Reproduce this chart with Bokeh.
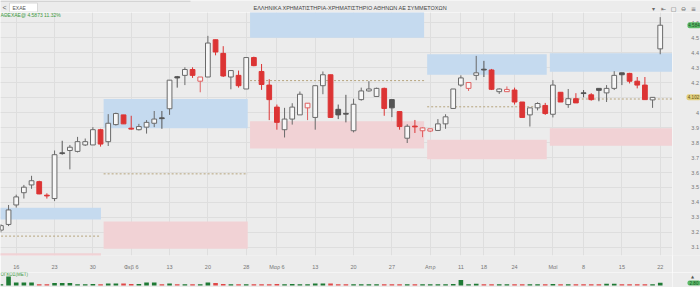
from bokeh.plotting import figure
from bokeh.layouts import column, row
from bokeh.models import FixedTicker, Range1d, Label, Grid
from bokeh.embed import file_html
from bokeh.resources import INLINE
from bokeh.core.properties import value

# ---------------- data ----------------
opens = [3.215, 3.253, 3.383, 3.465, 3.517, 3.539, 3.448, 3.426, 3.729, 3.747,
         3.741, 3.784, 3.784, 3.886, 3.806, 3.920, 3.985, 3.896, 3.886, 3.903,
         3.929, 3.965, 4.026, 4.240, 4.249, 4.288, 4.210, 4.238, 4.487, 4.396,
         4.238, 4.249, 4.158, 4.368, 4.275, 4.184, 4.037, 3.886, 3.957, 3.985,
         4.032, 3.968, 4.180, 4.253, 4.022, 3.995, 3.879, 4.087, 4.145, 4.108,
         4.162, 4.087, 4.007, 3.829, 3.910, 3.879, 3.877, 3.881, 3.925, 4.028,
         4.184, 4.162, 4.249, 4.290, 4.285, 4.140, 4.140, 4.151, 4.071, 3.985,
         4.032, 4.048, 3.989, 4.136, 4.054, 4.093, 4.132, 4.119, 4.162, 4.132,
         4.162, 4.266, 4.262, 4.210, 4.184, 4.085, 4.426]
highs = [3.255, 3.383, 3.452, 3.517, 3.578, 3.545, 3.461, 3.747, 3.812, 3.784,
         3.838, 3.827, 3.903, 3.892, 3.990, 4.000, 3.985, 3.979, 3.925, 3.950,
         4.011, 4.011, 4.217, 4.245, 4.303, 4.303, 4.238, 4.513, 4.487, 4.444,
         4.281, 4.281, 4.368, 4.374, 4.325, 4.223, 4.054, 4.032, 4.063, 4.141,
         4.063, 4.180, 4.275, 4.253, 4.054, 4.119, 4.093, 4.167, 4.210, 4.167,
         4.167, 4.087, 4.007, 3.922, 3.951, 3.901, 3.892, 3.957, 3.989, 4.158,
         4.249, 4.201, 4.379, 4.346, 4.292, 4.162, 4.175, 4.167, 4.071, 4.032,
         4.069, 4.065, 4.217, 4.136, 4.158, 4.130, 4.151, 4.130, 4.162, 4.184,
         4.277, 4.266, 4.266, 4.238, 4.238, 4.102, 4.638]
lows = [3.200, 3.242, 3.366, 3.426, 3.491, 3.455, 3.426, 3.409, 3.719, 3.621,
        3.734, 3.777, 3.784, 3.773, 3.777, 3.914, 3.925, 3.886, 3.881, 3.860,
        3.903, 3.892, 3.985, 4.167, 4.184, 4.232, 4.136, 4.238, 4.383, 4.238,
        4.156, 4.167, 4.158, 4.310, 4.152, 3.950, 3.886, 3.834, 3.920, 3.985,
        3.950, 3.886, 4.123, 3.968, 3.957, 3.935, 3.868, 4.080, 4.140, 4.108,
        3.979, 3.970, 3.886, 3.797, 3.864, 3.836, 3.870, 3.877, 3.892, 4.028,
        4.173, 4.145, 4.217, 4.238, 4.151, 4.125, 4.140, 4.054, 3.968, 3.907,
        4.015, 3.985, 3.968, 4.071, 4.032, 4.065, 4.102, 4.080, 4.076, 4.071,
        4.151, 4.184, 4.195, 4.162, 4.087, 4.032, 4.390]
closes = [3.245, 3.350, 3.437, 3.502, 3.545, 3.457, 3.444, 3.719, 3.729, 3.769,
          3.806, 3.806, 3.886, 3.790, 3.929, 3.994, 3.925, 3.890, 3.907, 3.935,
          3.957, 3.960, 4.217, 4.232, 4.288, 4.249, 4.238, 4.465, 4.405, 4.245,
          4.281, 4.180, 4.368, 4.314, 4.188, 4.087, 3.935, 3.957, 4.037, 4.123,
          4.063, 4.180, 4.253, 3.968, 3.985, 3.990, 4.056, 4.145, 4.158, 4.162,
          4.028, 4.032, 3.907, 3.909, 3.905, 3.898, 3.892, 3.925, 3.972, 4.158,
          4.232, 4.201, 4.266, 4.285, 4.156, 4.158, 4.155, 4.071, 3.968, 4.032,
          4.061, 3.994, 4.184, 4.071, 4.093, 4.065, 4.128, 4.087, 4.149, 4.162,
          4.249, 4.253, 4.210, 4.184, 4.087, 4.102, 4.584]
volumes = [1.2, 9.0, 3.0, 3.0, 3.0, 1.2, 1.2, 2.5, 2.5, 2.5,
           1.2, 1.2, 1.5, 1.2, 2.0, 2.0, 2.0, 1.5, 1.5, 3.0,
           3.0, 1.2, 2.0, 1.2, 1.2, 1.2, 1.2, 3.0, 2.5, 1.5,
           1.2, 1.2, 1.2, 1.2, 1.2, 1.2, 1.5, 1.2, 1.5, 1.2,
           1.2, 2.0, 2.0, 2.0, 1.2, 1.2, 1.2, 1.2, 1.2, 1.2,
           1.2, 1.2, 1.2, 1.2, 1.2, 1.2, 1.2, 1.2, 1.2, 1.5,
           5.5, 1.2, 1.8, 1.2, 1.2, 1.2, 1.2, 1.2, 1.2, 1.2,
           1.2, 1.2, 1.5, 1.2, 1.2, 1.2, 1.2, 1.2, 1.2, 1.8,
           1.8, 1.2, 1.2, 1.2, 1.2, 1.2, 2.8]

tick_idx = [2, 7, 12, 17, 22, 27, 32, 36, 41, 46, 51, 56, 60, 63, 67, 72, 76, 81, 86]
tick_labels = ["16", "23", "30", "Φεβ 6", "13", "20", "28", "Μαρ 6", "13", "20",
               "27", "Απρ", "11", "18", "24", "Μαϊ", "8", "15", "22"]
price_ticks = [3.1, 3.2, 3.3, 3.4, 3.5, 3.6, 3.7, 3.8, 3.9, 4.0, 4.1, 4.2, 4.3, 4.4, 4.5, 4.6]
price_labels = ["3.1", "3.2", "3.3", "3.4", "3.5", "3.6", "3.7", "3.8", "3.9", "4",
                "4.1", "4.2", "4.3", "4.4", "4.5", "4.6"]

# monthly zones (start/end in trading-day index)
zone_start = [-0.5, 13.4, 32.5, 55.6, 71.6]
zone_end = [13.05, 32.2, 55.2, 71.2, 87.7]
blue_top = [3.364, 4.091, 4.720, 4.390, 4.396]
blue_bottom = [3.286, 3.896, 4.500, 4.253, 4.273]
pivot = [3.175, 3.591, 4.214, 4.039, 4.091]
pink_top = [3.060, 3.273, 3.942, 3.818, 3.896]
pink_bottom = [2.990, 3.091, 3.760, 3.688, 3.779]

title_text = "ΕΛΛΗΝΙΚΑ ΧΡΗΜΑΤΙΣΤΗΡΙΑ-ΧΡΗΜΑΤΙΣΤΗΡΙΟ ΑΘΗΝΩΝ ΑΕ ΣΥΜΜΕΤΟΧΩΝ"
symbol = "ΕΧΑΕ"
info_text = "ΑΘΕΧΑΕ@ 4.5873 11.32%"
volume_title = "ΟΓΚΟΣ(ΜΕΤ)"

# ---------------- styling ----------------
BG = "#ececec"
GRID = "#dedede"
RED = "#dc3434"
DARK = "#555555"
HOLLOW = "#f7f7f7"
FONT = value("Liberation Sans")
MAIN_W, SIDE_W = 672, 28
MAIN_H, AXIS_H = 260, 10


def base_fig(**kw):
    f = figure(toolbar_location=None, output_backend="svg",
               background_fill_color=BG, border_fill_color=BG, outline_line_color=None,
               min_border_left=0, min_border_right=0, min_border_top=0, min_border_bottom=0,
               **kw)
    return f


# ---------------- derived candle styling ----------------
n = len(opens)
idx = list(range(n))
body_top, body_bot, fills, outlines, wicks, vol_colors = [], [], [], [], [], []
for i in range(n):
    o, c = opens[i], closes[i]
    pc = closes[i - 1] if i > 0 else o
    up_day = c >= pc
    col = DARK if up_day else RED
    top, bot = max(o, c), min(o, c)
    if top - bot < 0.005:
        mid = (top + bot) / 2
        top, bot = mid + 0.0025, mid - 0.0025
    body_top.append(top)
    body_bot.append(bot)
    if c > o:
        fills.append(HOLLOW)
        outlines.append("#6a6a6a" if up_day else "#e06060")
        wicks.append("#6a6a6a" if up_day else "#e06060")
    else:
        fills.append(col)
        outlines.append(col)
        wicks.append(col)
    vol_colors.append("#1f7a35" if c >= o else "#e04848")

# ---------------- header bar ----------------
header = base_fig(width=700, height=12, x_range=Range1d(0, 700), y_range=Range1d(12, 0),
                  x_axis_location=None, y_axis_location=None)
header.grid.visible = False
header.quad(left=[0], right=[190], top=[0], bottom=[1.5], fill_color="#d4d4d4", line_color=None)
header.quad(left=[9], right=[37], top=[2.5], bottom=[11.5], fill_color="#ffffff", line_color="#d8d8d8")
header.text(x=[2], y=[7], text=["<"], text_font=FONT, text_font_size="7px",
            text_color="#666666", text_baseline="middle")
header.text(x=[12], y=[7], text=[symbol], text_font=FONT, text_font_size="5px",
            text_color="#555555", text_baseline="middle")
header.text(x=[350], y=[7.5], text=[title_text], text_font=FONT, text_font_size="5.5px",
            text_color="#444444", text_baseline="middle", text_align="center")
header.text(x=[653, 663, 673, 683, 693], y=[7.5] * 5, text=["▾", "⇤", "▢", "⊖", "≡"],
            text_font=value("DejaVu Sans"), text_font_size="6px", text_color="#666666",
            text_baseline="middle", text_align="center")

# ---------------- main price pane ----------------
yr = Range1d(3.0455, 4.669)
xr = Range1d(-0.05, 87.6)
p = base_fig(width=MAIN_W, height=MAIN_H, x_range=xr, y_range=yr, y_axis_location=None)
p.min_border_bottom = AXIS_H

p.quad(left=zone_start, right=zone_end, top=blue_top, bottom=blue_bottom,
       fill_color="#c5daef", line_color=None)
p.quad(left=zone_start, right=zone_end, top=pink_top, bottom=pink_bottom,
       fill_color="#f1d2d5", line_color=None)
p.segment(x0=zone_start, y0=pivot, x1=zone_end, y1=pivot,
          line_color="#b6a47c", line_dash="2 2", line_width=1)

p.segment(x0=idx, y0=lows, x1=idx, y1=highs, line_color=wicks, line_width=1)
p.vbar(x=idx, width=0.62, top=body_top, bottom=body_bot,
       fill_color=fills, line_color=outlines, line_width=1)

p.xgrid.grid_line_color = GRID
p.add_layout(Grid(dimension=1, ticker=FixedTicker(ticks=price_ticks), grid_line_color=GRID,
                  level="underlay"))
p.xaxis.ticker = FixedTicker(ticks=tick_idx)
p.xaxis.major_label_overrides = {t: l for t, l in zip(tick_idx, tick_labels)}
ax = p.xaxis[0]
ax.axis_line_color = None
ax.major_tick_line_color = None
ax.minor_tick_line_color = None
ax.major_label_text_font = "Liberation Sans"
ax.major_label_text_font_size = "5.5px"
ax.major_label_text_color = "#777777"
ax.major_label_standoff = 2

p.add_layout(Label(x=-0.05, y=4.652, text=info_text, text_font="Liberation Sans",
                   text_font_size="5px", text_color="#3d9a3d", text_baseline="middle"))

# ---------------- right price scale strip ----------------
side = base_fig(width=SIDE_W, height=MAIN_H, x_range=Range1d(0, SIDE_W), y_range=yr,
                x_axis_location=None, y_axis_location=None)
side.min_border_bottom = AXIS_H
side.grid.visible = False
side.text(x=[26.5] * len(price_ticks), y=price_ticks, text=price_labels, text_font=FONT,
          text_font_size="5.5px", text_color="#777777", text_align="right",
          text_baseline="middle")
badge_y = [closes[-1], closes[-2]]
badge_txt = [f"{closes[-1]:.3f}", f"{closes[-2]:.3f}"]
side.rect(x=[21.5, 21.0], y=badge_y, width=[13, 14], height=6, height_units="screen",
          fill_color=["#5cba69", "#e2cf7e"], line_color=None, border_radius=2)
side.text(x=[21.5, 21.0], y=badge_y, text=badge_txt, text_font=FONT, text_font_size="4.5px",
          text_color=["#1a5226", "#5e4f14"], text_align="center", text_baseline="middle")

# ---------------- volume pane ----------------
vr = Range1d(-2, 13)
vol = base_fig(width=MAIN_W, height=15, x_range=xr, y_range=vr,
               x_axis_location=None, y_axis_location=None)
vol.grid.visible = False
vol.vbar(x=idx, width=0.6, top=volumes, bottom=0, fill_color=vol_colors, line_color=None)
vol.add_layout(Label(x=-0.05, y=11, text=volume_title, text_font="Liberation Sans",
                     text_font_size="4.5px", text_color="#3d9a3d", text_baseline="middle"))

vside = base_fig(width=SIDE_W, height=15, x_range=Range1d(0, SIDE_W), y_range=vr,
                 x_axis_location=None, y_axis_location=None)
vside.grid.visible = False
vside.text(x=[20], y=[9.5], text=["▲"], text_font=value("DejaVu Sans"), text_font_size="4px",
           text_color="#555555", text_align="center", text_baseline="middle")
vside.rect(x=[21.5], y=[2.5], width=[13], height=5, height_units="screen",
           fill_color="#5cba69", line_color=None, border_radius=2)
vside.text(x=[21.5], y=[2.5], text=[f"{volumes[-1]:.2f}"], text_font=FONT, text_font_size="4.5px",
           text_color="#1a5226", text_align="center", text_baseline="middle")

layout = column(header, row(p, side, spacing=0), row(vol, vside, spacing=0), spacing=0)
open("out.html", "w").write(file_html(layout, INLINE))
